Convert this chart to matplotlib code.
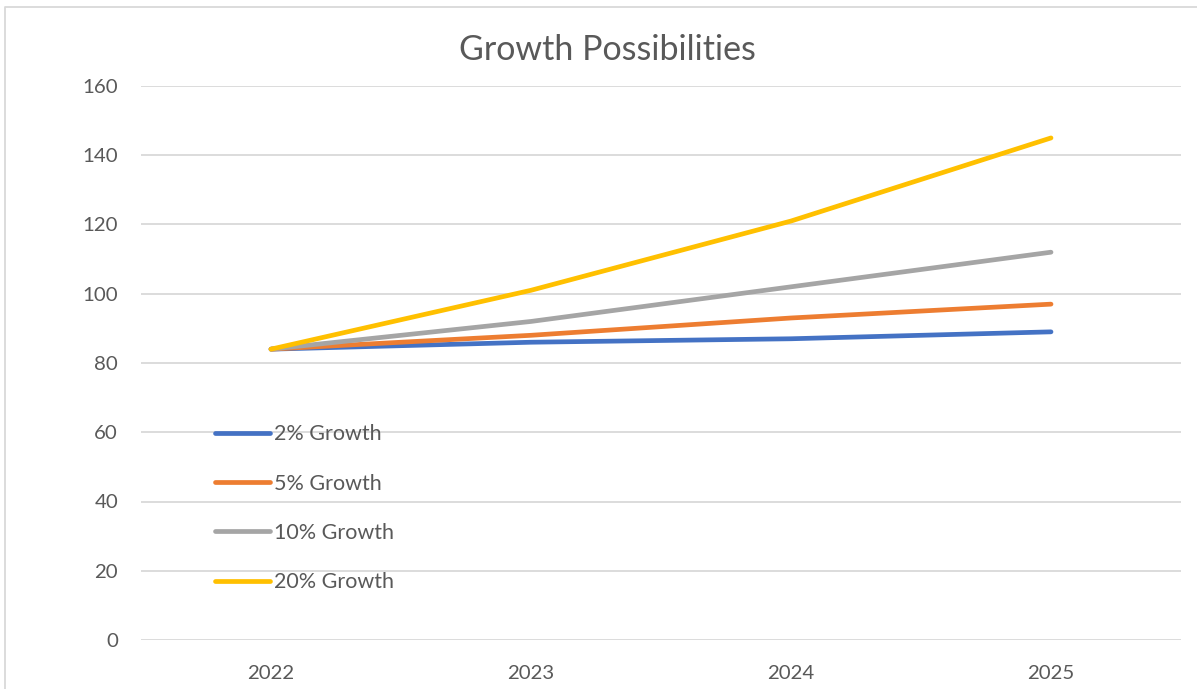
import matplotlib
matplotlib.use("Agg")
import matplotlib.pyplot as plt
from matplotlib.lines import Line2D

years = ["2022", "2023", "2024", "2025"]
series_names = ["2% Growth", "5% Growth", "10% Growth", "20% Growth"]
growth_2 = [84, 86, 87, 89]
growth_5 = [84, 88, 93, 97]
growth_10 = [84, 92, 102, 112]
growth_20 = [84, 101, 121, 145]
colors = ["#4472C4", "#ED7D31", "#A5A5A5", "#FFC000"]
yticks = [0, 20, 40, 60, 80, 100, 120, 140, 160]

plt.rcParams['font.family'] = ['Lato', 'DejaVu Sans']
W, H = 1197, 689
fig = plt.figure(figsize=(W / 100, H / 100), dpi=100)
ax = fig.add_axes([141 / W, 1 - 640 / H, (1181 - 141) / W, (640 - 86) / H])

x = list(range(len(years)))
for vals, name, c in zip([growth_2, growth_5, growth_10, growth_20], series_names, colors):
    ax.plot(x, vals, color=c, lw=3.4, solid_capstyle='round', label=name, zorder=3)

ax.set_xlim(-0.5, len(years) - 0.5)
ax.set_ylim(0, 160)
ax.set_xticks(x)
ax.set_xticklabels(years)
ax.set_yticks(yticks)
ax.grid(axis='y', color='#D9D9D9', lw=1.3)
ax.set_axisbelow(True)
for s in ax.spines.values():
    s.set_visible(False)
ax.tick_params(axis='both', length=0, labelsize=14.7, colors='#595959')
ax.tick_params(axis='y', pad=16.5)
ax.tick_params(axis='x', pad=18)

fig.text(607 / W, 1 - 50 / H, "Growth Possibilities", fontsize=24.5, color='#595959',
         ha='center', va='center')

leg = ax.legend(loc='upper left', bbox_to_anchor=(0.063, 0.405), frameon=False,
                fontsize=15.5, handlelength=2.55, handletextpad=0.2,
                labelspacing=1.36, labelcolor='#595959', borderaxespad=0)
for h in leg.get_lines():
    h.set_linewidth(3.4)

# chart border
fig.add_artist(Line2D([5 / W, 5 / W, 1.0], [0.0, 1 - 7 / H, 1 - 7 / H],
                      transform=fig.transFigure, color='#D9D9D9', lw=1.3))

fig.savefig("out.png", dpi=100, facecolor='white')
